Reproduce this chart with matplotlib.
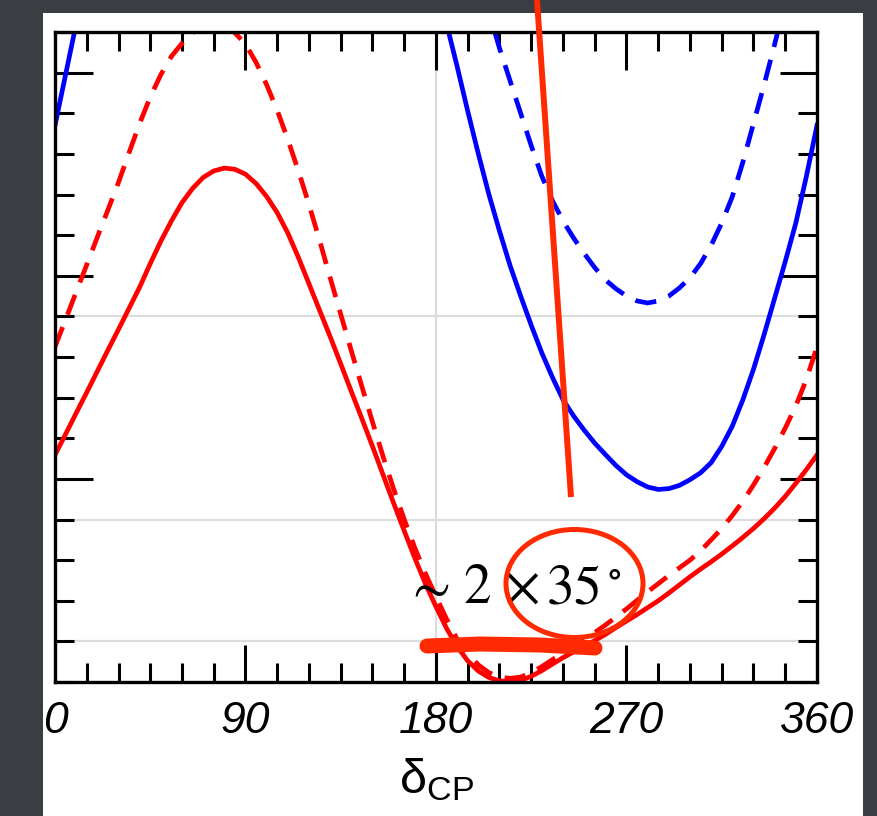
import numpy as np
import matplotlib.pyplot as plt
from matplotlib.patches import Rectangle, Ellipse
from matplotlib.lines import Line2D

# delta_CP grid (degrees) and chi^2-like values
delta = np.arange(0, 361, 5)
nan = np.nan

red_solid = [5.59, 6.1, 6.62, 7.13, 7.65, 8.17, 8.68, 9.2, 9.72, 10.3,
             10.85, 11.35, 11.8, 12.15, 12.42, 12.58, 12.65, 12.62, 12.5, 12.27,
             11.95, 11.55, 11.05, 10.45, 9.8, 9.15, 8.5, 7.83, 7.15, 6.48,
             5.8, 5.1, 4.4, 3.72, 3.05, 2.42, 1.85, 1.32, 0.87, 0.52,
             0.27, 0.11, 0.03, 0.0, 0.04, 0.14, 0.28, 0.44, 0.6, 0.74,
             0.88, 1.02, 1.17, 1.34, 1.5, 1.66, 1.83, 2.0, 2.19, 2.39,
             2.59, 2.78, 2.96, 3.15, 3.35, 3.56, 3.78, 4.02, 4.28, 4.57,
             4.89, 5.23, 5.59]

red_dashed = [8.25, 8.92, 9.6, 10.27, 10.95, 11.62, 12.3, 13.03, 13.75, 14.4,
              14.95, 15.4, 15.72, 15.98, 16.12, 16.2, 16.15, 15.98, 15.7, 15.25,
              14.7, 14.07, 13.35, 12.58, 11.75, 10.87, 9.95, 9.05, 8.15, 7.27,
              6.4, 5.55, 4.75, 4.0, 3.3, 2.67, 2.1, 1.55, 1.05, 0.7,
              0.42, 0.23, 0.12, 0.09, 0.12, 0.23, 0.38, 0.55, 0.72, 0.88,
              1.05, 1.22, 1.4, 1.6, 1.8, 2.01, 2.22, 2.42, 2.62, 2.81,
              3.0, 3.23, 3.5, 3.78, 4.1, 4.45, 4.85, 5.28, 5.75, 6.25,
              6.8, 7.45, 8.25]

blue_solid = [13.7, 14.95, 16.2, 17.4, nan, nan, nan, nan, nan, nan,
              nan, nan, nan, nan, nan, nan, nan, nan, nan, nan,
              nan, nan, nan, nan, nan, nan, nan, nan, nan, nan,
              nan, nan, nan, nan, nan, 18.4, 17.3, 16.2, 15.15, 14.05,
              13.0, 12.0, 11.1, 10.25, 9.5, 8.78, 8.1, 7.5, 6.95, 6.55,
              6.2, 5.88, 5.6, 5.33, 5.1, 4.93, 4.8, 4.74, 4.76, 4.84,
              4.98, 5.15, 5.4, 5.8, 6.3, 6.95, 7.7, 8.55, 9.45, 10.35,
              11.3, 12.45, 13.7]

blue_dashed = [nan, nan, nan, nan, nan, nan, nan, nan, nan, nan,
               nan, nan, nan, nan, nan, nan, nan, nan, nan, nan,
               nan, nan, nan, nan, nan, nan, nan, nan, nan, nan,
               nan, nan, nan, nan, nan, nan, nan, nan, nan, nan,
               17.5, 16.5, 15.6, 14.8, 14.0, 13.2, 12.45, 11.85, 11.35, 10.93,
               10.55, 10.2, 9.9, 9.68, 9.5, 9.38, 9.33, 9.38, 9.5, 9.7,
               9.95, 10.3, 10.75, 11.3, 11.95, 12.8, 13.75, 14.7, 15.7, 16.75,
               17.9, nan, nan]

xticks = [0, 90, 180, 270, 360]
xtick_labels = ['0', '90', '180', '270', '360']
grid_levels = [1, 4, 9]

plt.rcParams['mathtext.fontset'] = 'custom'
plt.rcParams['mathtext.rm'] = 'Liberation Sans'
plt.rcParams['mathtext.it'] = 'Liberation Sans:italic'

W, H = 877, 816
fig = plt.figure(figsize=(W / 100, H / 100), dpi=100, facecolor='#3a3d41')
fig.add_artist(Rectangle((43 / W, 0), 820 / W, 803 / H, transform=fig.transFigure,
                         facecolor='white', edgecolor='none', zorder=-10))

ax = fig.add_axes([55 / W, 134 / H, 762 / W, 650 / H])
ax.set_zorder(1)
ax.set_xlim(0, 360)
ax.set_ylim(0, 16)

gray = '#dcdcdc'
ax.axvline(180, color=gray, lw=1.6, zorder=1)
for g in grid_levels:
    ax.axhline(g, color=gray, lw=1.6, zorder=1)

lw = 3.4
ax.plot(delta, red_solid, color='#ff0000', lw=lw, zorder=3)
ax.plot(delta, red_dashed, color='#ff0000', lw=lw, dashes=(4.5, 2.8), zorder=3)
ax.plot(delta, blue_solid, color='#0000ff', lw=lw, zorder=3)
ax.plot(delta, blue_dashed, color='#0000ff', lw=lw, dashes=(4.5, 2.8), zorder=3)

ax.set_xticks(xticks)
ax.set_xticklabels(xtick_labels, fontfamily='Liberation Sans', style='italic', fontsize=32)
ax.set_xticks(np.arange(0, 361, 15), minor=True)
ax.set_yticks([5, 10, 15])
ax.set_yticks(np.arange(0, 17, 1), minor=True)
ax.tick_params(which='both', direction='in', top=True, right=True, width=2.2,
               labelleft=False, color='black')
ax.tick_params(which='major', length=27, pad=14)
ax.tick_params(which='minor', length=14)
for s in ax.spines.values():
    s.set_linewidth(2.4)
    s.set_zorder(5)

fig.text(436 / W, 1 - 793 / H, r'$\mathrm{δ}_{\mathrm{CP}}$', fontsize=35,
         ha='center', va='baseline')

# hand-drawn annotations
ann = '#ff2a00'
base = 1 - 603 / H
for px, s in [(404, r'$\sim$'), (463, '$2$'), (504, r'$\times$'), (546, r'$35^\circ$')]:
    fig.text(px / W, base, s, math_fontfamily='stix', fontsize=40,
             ha='left', va='baseline', zorder=10)
fig.add_artist(Ellipse((574.5 / W, 1 - 583.5 / H), 137 / W, 108 / H,
                       transform=fig.transFigure, fill=False, edgecolor=ann, lw=3.6, zorder=11))
fig.add_artist(Line2D(np.array([427, 480, 540, 595]) / W,
                      1 - np.array([646, 644, 645, 648]) / H,
                      color=ann, lw=10.8, solid_capstyle='round', zorder=11))
fig.add_artist(Line2D(np.array([537, 571]) / W, 1 - np.array([0, 497]) / H,
                      color=ann, lw=4.3, solid_capstyle='butt', zorder=11))

fig.savefig('out.png', dpi=100, facecolor=fig.get_facecolor())
